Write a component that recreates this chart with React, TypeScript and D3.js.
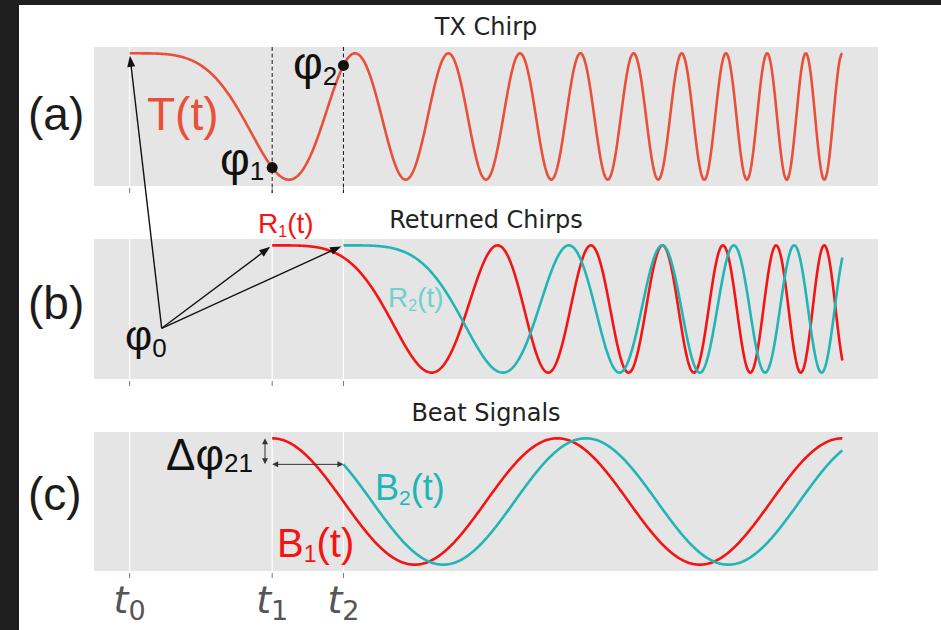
import React from "react";
import * as d3 from "d3";

// chirp start times t0, t1, t2 (fraction of the sweep)
const delays = [0, 0.2, 0.3];
const tickSubs = ["0", "1", "2"];
// T(t) = cos(k t^2): first trough read at t ~ 0.224, 10th crest at t ~ 0.95 -> k = 20 pi
const chirpRate = 20 * Math.PI;
// beat signals: crests at 0.2, 0.6, 1.0 -> period 0.4, B2 lags B1 by ~0.04
const beatPeriod = 0.4;
const beatLag = 0.04;
const titles = ["TX Chirp", "Returned Chirps", "Beat Signals"];
const panelTags = ["(a)", "(b)", "(c)"];

const W = 941;
const H = 630;
const TX = "#e8503a";
const RED = "#f41414";
const CYAN = "#22b5b5";
const SANS = "'Liberation Sans', Arial, sans-serif";
const DEJAVU = "'DejaVu Sans', sans-serif";

const panels = [
  { top: 47, bottom: 186 },
  { top: 239, bottom: 379 },
  { top: 432, bottom: 571 },
];

const x = d3.scaleLinear().domain([-0.05, 1.05]).range([94, 878]);
const yScale = (p) => d3.scaleLinear().domain([-1.1, 1.1]).range([p.bottom, p.top]);
const ts = d3.range(0, 1.0005, 0.001);

const chirp = (t, d) => Math.cos(chirpRate * (t - d) * (t - d));
const beat = (t, lag) => Math.cos((2 * Math.PI * (t - delays[1] - lag)) / beatPeriod);

function path(y, f, from) {
  const line = d3
    .line()
    .x((t) => x(t))
    .y((t) => y(f(t)));
  return line(ts.filter((t) => t >= from - 1e-9));
}

// filled arrow head at (x2,y2) pointing from (x1,y1)
function head(x1, y1, x2, y2, len, half) {
  const a = Math.atan2(y2 - y1, x2 - x1);
  const bx = x2 - len * Math.cos(a);
  const by = y2 - len * Math.sin(a);
  const nx = -Math.sin(a) * half;
  const ny = Math.cos(a) * half;
  return `${x2},${y2} ${bx + nx},${by + ny} ${bx - nx},${by - ny}`;
}

function Arrow({ x1, y1, x2, y2, len = 11, half = 4, width = 1.4, color = "#111", both = false }) {
  const a = Math.atan2(y2 - y1, x2 - x1);
  const ex = x2 - (len - 2) * Math.cos(a);
  const ey = y2 - (len - 2) * Math.sin(a);
  const sx = both ? x1 + (len - 2) * Math.cos(a) : x1;
  const sy = both ? y1 + (len - 2) * Math.sin(a) : y1;
  return (
    <g>
      <line x1={sx} y1={sy} x2={ex} y2={ey} stroke={color} strokeWidth={width} />
      <polygon points={head(x1, y1, x2, y2, len, half)} fill={color} />
      {both && <polygon points={head(x2, y2, x1, y1, len, half)} fill={color} />}
    </g>
  );
}

export default function App() {
  const [ya, yb, yc] = panels.map(yScale);
  const cx = (x.range()[0] + x.range()[1]) / 2;
  const origin = { x: 161.7, y: 328.3 };
  const targets = [
    { x: x(delays[0]), y: ya(1) },
    { x: x(delays[1]), y: yb(1) },
    { x: x(delays[2]), y: yb(1) },
  ];
  const shrink = (p) => {
    const dx = p.x - origin.x;
    const dy = p.y - origin.y;
    const l = Math.hypot(dx, dy);
    return { x: p.x - (dx / l) * 2.5, y: p.y - (dy / l) * 2.5 };
  };
  const b2Start = yc(beat(delays[2], beatLag));

  return (
    <svg
      width={W}
      height={H}
      style={{ position: "fixed", left: 0, top: 0, background: "#fff" }}
    >
      <rect x={0} y={0} width={W} height={H} fill="#fff" />
      <rect x={0} y={0} width={W} height={5} fill="#1f1f1f" />
      <rect x={0} y={0} width={19} height={H} fill="#1f1f1f" />

      {panels.map((p, i) => (
        <g key={i}>
          <rect
            x={x.range()[0]}
            y={p.top}
            width={x.range()[1] - x.range()[0]}
            height={p.bottom - p.top}
            fill="#e5e5e5"
          />
          {delays.map((d, j) => (
            <g key={j}>
              <line x1={x(d)} x2={x(d)} y1={p.top} y2={p.bottom} stroke="#fff" strokeWidth={1.2} />
              <line x1={x(d)} x2={x(d)} y1={p.bottom + 2} y2={p.bottom + 7} stroke="#777" strokeWidth={1} />
            </g>
          ))}
          <text
            x={cx}
            y={[35, 228, 421][i]}
            textAnchor="middle"
            fontFamily={DEJAVU}
            fontSize={24}
            fill="#222"
          >
            {titles[i]}
          </text>
          <text x={28} y={[130, 319, 510][i]} fontFamily={SANS} fontSize={46} fill="#1c1c1c">
            {panelTags[i]}
          </text>
        </g>
      ))}

      {/* (a) TX chirp */}
      {delays.slice(1).map((d, j) => (
        <line
          key={j}
          x1={x(d)}
          x2={x(d)}
          y1={panels[0].top}
          y2={panels[0].bottom + 7}
          stroke="#222"
          strokeWidth={1.1}
          strokeDasharray="4,2.5"
        />
      ))}
      <path d={path(ya, (t) => chirp(t, 0), 0)} fill="none" stroke={TX} strokeWidth={2.6} />
      {delays.slice(1).map((d, j) => (
        <circle key={j} cx={x(d)} cy={ya(chirp(d, 0))} r={5.5} fill="#111" />
      ))}
      <text x={147} y={130} fontFamily={SANS} fontSize={46} fill={TX}>
        T(t)
      </text>
      <text x={220} y={175} fontFamily={SANS} fontSize={46} fill="#111">
        φ<tspan fontSize={26} dy={5}>1</tspan>
      </text>
      <text x={293} y={79} fontFamily={SANS} fontSize={46} fill="#111">
        φ<tspan fontSize={26} dy={6}>2</tspan>
      </text>

      {/* (b) returned chirps */}
      <path d={path(yb, (t) => chirp(t, delays[1]), delays[1])} fill="none" stroke={RED} strokeWidth={2.6} />
      <path d={path(yb, (t) => chirp(t, delays[2]), delays[2])} fill="none" stroke={CYAN} strokeWidth={2.6} />
      <text x={258} y={233} fontFamily={SANS} fontSize={28} fill={RED}>
        R<tspan fontSize={16} dy={4}>1</tspan>
        <tspan dy={-4}>(t)</tspan>
      </text>
      <text x={388} y={307} fontFamily={SANS} fontSize={28} fill="#72cfcf">
        R<tspan fontSize={16} dy={4}>2</tspan>
        <tspan dy={-4}>(t)</tspan>
      </text>
      <text x={125} y={350} fontFamily={SANS} fontSize={42} fill="#111">
        φ<tspan fontSize={26} dy={7}>0</tspan>
      </text>
      {targets.map((p, j) => {
        const q = shrink(p);
        return <Arrow key={j} x1={origin.x} y1={origin.y} x2={q.x} y2={q.y} />;
      })}

      {/* (c) beat signals */}
      <path d={path(yc, (t) => beat(t, 0), delays[1])} fill="none" stroke={RED} strokeWidth={2.6} />
      <path d={path(yc, (t) => beat(t, beatLag), delays[2])} fill="none" stroke={CYAN} strokeWidth={2.6} />
      <Arrow x1={265} y1={yc(1)} x2={265} y2={b2Start} len={6} half={3} width={1} color="#333" both />
      <Arrow x1={x(delays[1])} y1={b2Start} x2={x(delays[2])} y2={b2Start} len={6} half={3} width={1} color="#333" both />
      <text x={166} y={470} fontFamily={SANS} fontSize={44} fill="#111">
        Δφ<tspan fontSize={26} dy={2}>21</tspan>
      </text>
      <text x={375} y={500} fontFamily={SANS} fontSize={36} fill={CYAN}>
        B<tspan fontSize={21} dy={5}>2</tspan>
        <tspan dy={-5}>(t)</tspan>
      </text>
      <text x={277} y={557} fontFamily={SANS} fontSize={40} fill={RED}>
        B<tspan fontSize={23} dy={5}>1</tspan>
        <tspan dy={-5}>(t)</tspan>
      </text>

      {delays.map((d, j) => (
        <text key={j} x={x(d)} y={613} textAnchor="middle" fontFamily={DEJAVU} fontSize={38} fill="#555">
          <tspan fontStyle="italic">t</tspan>
          <tspan fontSize={27} dy={7}>{tickSubs[j]}</tspan>
        </text>
      ))}
    </svg>
  );
}
